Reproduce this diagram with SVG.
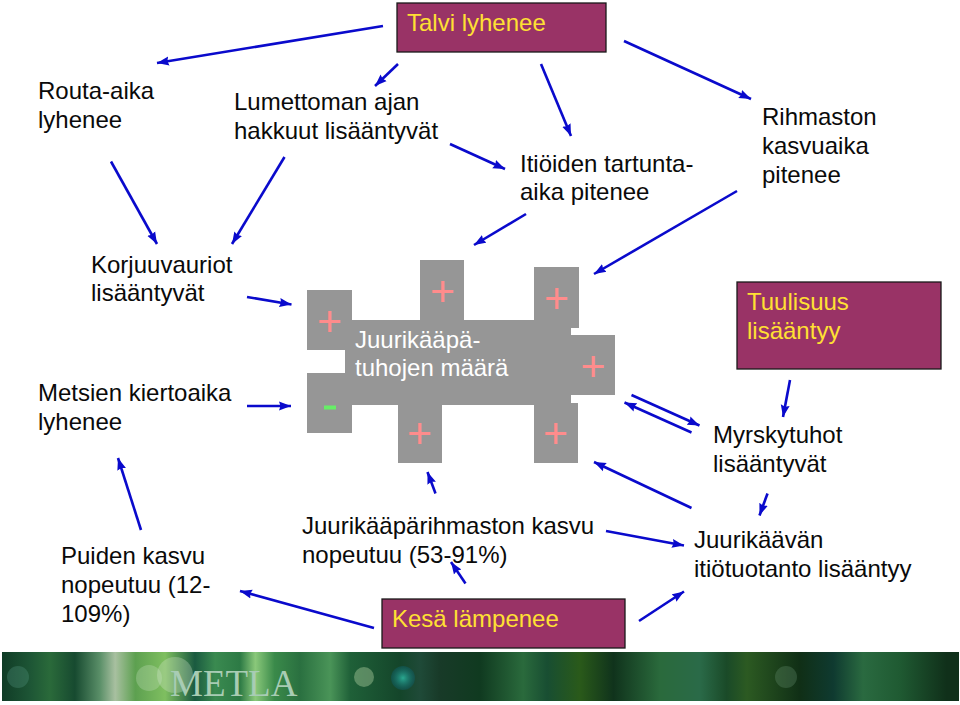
<svg xmlns="http://www.w3.org/2000/svg" width="960" height="705" viewBox="0 0 960 705">
<style>
text{font-family:"Liberation Sans",Arial,sans-serif;font-size:24px;fill:#0a0a0a}
.k{fill:#fff}.y{fill:#ffe033}
.box{fill:#993366;stroke:#1a1a1a;stroke-width:1.3}
.g{fill:#969696}
.p{fill:#ff8c8c;font-size:43px;text-anchor:middle}
.c line{stroke:#0a0acc;stroke-width:2.6;marker-end:url(#a)}
</style>
<defs>
<marker id="a" markerUnits="userSpaceOnUse" markerWidth="14" markerHeight="12" refX="12" refY="5" orient="auto"><path d="M0 0.500L12 5L0 9.500L1.500 5Z" fill="#0a0acc"/></marker>
<linearGradient id="b" gradientUnits="userSpaceOnUse" x1="0" x2="960" y1="0" y2="0">
<stop offset="0" stop-color="#0f3a25"/><stop offset=".031" stop-color="#1d5535"/><stop offset=".052" stop-color="#2a6a3a"/><stop offset=".078" stop-color="#174a30"/><stop offset=".104" stop-color="#5a8f68"/><stop offset=".12" stop-color="#a8c0a0"/><stop offset=".141" stop-color="#5da050"/><stop offset=".172" stop-color="#7fbf60"/><stop offset=".203" stop-color="#1a5a40"/><stop offset=".224" stop-color="#3a8a50"/><stop offset=".25" stop-color="#2d7a45"/><stop offset=".266" stop-color="#8ac87a"/><stop offset=".286" stop-color="#3a8a4a"/><stop offset=".3125" stop-color="#2a7040"/><stop offset=".344" stop-color="#4a9458"/><stop offset=".365" stop-color="#1f6038"/><stop offset=".417" stop-color="#14452a"/><stop offset=".4375" stop-color="#1f4a38"/><stop offset=".458" stop-color="#183a28"/><stop offset=".5" stop-color="#103a20"/><stop offset=".545" stop-color="#2a6a3c"/><stop offset=".57" stop-color="#184e32"/><stop offset=".604" stop-color="#2a5a1a"/><stop offset=".639" stop-color="#10331c"/><stop offset=".6875" stop-color="#2a6a3c"/><stop offset=".729" stop-color="#2a6a48"/><stop offset=".757" stop-color="#1a4a28"/><stop offset=".778" stop-color="#2c5a22"/><stop offset=".833" stop-color="#102f16"/><stop offset=".868" stop-color="#0f3a30"/><stop offset=".899" stop-color="#2a6a40"/><stop offset=".9375" stop-color="#1f5a32"/><stop offset=".986" stop-color="#10301a"/>
</linearGradient>
<radialGradient id="t"><stop offset="0" stop-color="#2aa890"/><stop offset="1" stop-color="#0f5a60" stop-opacity=".5"/></radialGradient>
</defs>
<rect width="960" height="705" fill="#fff"/>
<g id="banner">
<rect x="2" y="652" width="957" height="49" fill="url(#b)"/>
<circle cx="18" cy="677" r="11" fill="#5a9a88" opacity=".3"/>
<circle cx="149" cy="678" r="13" fill="#c8e0c0" opacity=".3"/>
<circle cx="175" cy="675" r="18" fill="#d8e8d0" opacity=".3"/>
<circle cx="364" cy="677" r="10" fill="#b8d8a8" opacity=".4"/>
<circle cx="403" cy="678" r="12" fill="url(#t)"/>
<circle cx="786" cy="677" r="11" fill="#7aa888" opacity=".25"/>
<text x="170" y="696" style="font-family:'Liberation Serif',serif;font-size:37px;fill:#a8ccb4">METLA</text>
</g>
<g id="burls">
<path class="g" d="M307 290H352V320H420V260H464V320H534V267H579V328H571V335H615V395H571V403H578V463H534V405H442V463H398V405H352V433H307V373H345V350H307Z"/>
<text class="k" x="355" y="348">Juurikääpä-</text>
<text class="k" x="355" y="376">tuhojen määrä</text>
<text class="p" x="329.500" y="336">+</text>
<text class="p" x="442.500" y="306">+</text>
<text class="p" x="556.500" y="313">+</text>
<text class="p" x="593" y="381">+</text>
<text class="p" x="419.500" y="448">+</text>
<text class="p" x="555.500" y="448">+</text>
<rect x="324" y="405.500" width="12" height="4" fill="#66ee66"/>
</g>
<g id="n-talvi"><rect class="box" x="397" y="3" width="209" height="49"/><text class="y" x="407" y="31">Talvi lyhenee</text></g>
<g id="n-routa"><text x="38" y="99">Routa-aika</text><text x="38" y="128">lyhenee</text></g>
<g id="n-lumi"><text x="234" y="110">Lumettoman ajan</text><text x="234" y="139">hakkuut lisääntyvät</text></g>
<g id="n-itio"><text x="520" y="172">Itiöiden tartunta-</text><text x="520" y="200">aika pitenee</text></g>
<g id="n-rihma"><text x="762" y="125">Rihmaston</text><text x="762" y="154">kasvuaika</text><text x="762" y="183">pitenee</text></g>
<g id="n-korjuu"><text x="91" y="273">Korjuuvauriot</text><text x="91" y="301">lisääntyvät</text></g>
<g id="n-kierto"><text x="38" y="401">Metsien kiertoaika</text><text x="38" y="430">lyhenee</text></g>
<g id="n-tuuli"><rect class="box" x="737" y="282" width="204" height="87"/><text class="y" x="747" y="310">Tuulisuus</text><text class="y" x="747" y="339">lisääntyy</text></g>
<g id="n-myrsky"><text x="713" y="443">Myrskytuhot</text><text x="713" y="472">lisääntyvät</text></g>
<g id="n-puu"><text x="61" y="564">Puiden kasvu</text><text x="61" y="593">nopeutuu (12-</text><text x="61" y="622">109%)</text></g>
<g id="n-rihmakasvu"><text x="302" y="534">Juurikääpärihmaston kasvu</text><text x="302" y="563">nopeutuu (53-91%)</text></g>
<g id="n-kesa"><rect class="box" x="382" y="599" width="243" height="49"/><text class="y" x="392" y="627">Kesä lämpenee</text></g>
<g id="n-itio2"><text x="694" y="548">Juurikäävän</text><text x="694" y="577">itiötuotanto lisääntyy</text></g>
<g id="connectors" class="c">
<line x1="383" y1="26" x2="157" y2="63"/>
<line x1="398" y1="64" x2="375" y2="86"/>
<line x1="541" y1="64" x2="571" y2="136"/>
<line x1="624" y1="41" x2="751" y2="99"/>
<line x1="111" y1="161.500" x2="157" y2="244"/>
<line x1="284.500" y1="157" x2="232" y2="244"/>
<line x1="450" y1="144" x2="505" y2="169"/>
<line x1="526" y1="214" x2="474" y2="245"/>
<line x1="737" y1="191" x2="594" y2="274"/>
<line x1="247" y1="297" x2="291.500" y2="304.500"/>
<line x1="247" y1="406" x2="291" y2="406"/>
<line x1="631.500" y1="395" x2="699.500" y2="425.500"/>
<line x1="691.500" y1="432.500" x2="624.500" y2="402.500"/>
<line x1="790" y1="380" x2="783" y2="417"/>
<line x1="691.500" y1="508" x2="594" y2="462"/>
<line x1="767.500" y1="493.500" x2="759.500" y2="515.500"/>
<line x1="435.500" y1="493.500" x2="427.500" y2="472"/>
<line x1="141" y1="530" x2="118" y2="458"/>
<line x1="606" y1="531" x2="684" y2="545.500"/>
<line x1="374" y1="628" x2="240" y2="591"/>
<line x1="465.500" y1="583.500" x2="451" y2="562"/>
<line x1="639" y1="621" x2="684" y2="591.500"/>
</g>
</svg>
